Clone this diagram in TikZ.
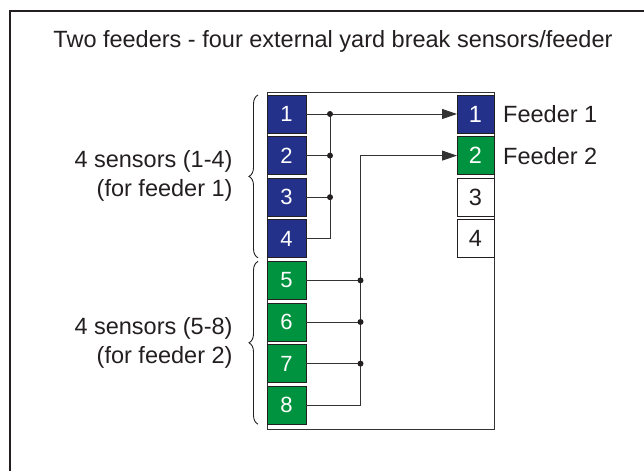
\documentclass[tikz,border=0pt]{standalone}
\usepackage{fontspec}
\setmainfont{Liberation Sans}
\usetikzlibrary{arrows.meta,positioning,decorations.pathreplacing,calc}
\definecolor{feedblue}{HTML}{23318A}
\definecolor{feedgreen}{HTML}{00933F}
\definecolor{inkdark}{HTML}{231F20}
\definecolor{wiregray}{HTML}{333333}

\begin{document}
\begin{tikzpicture}[x=1pt,y=1pt,
  every node/.style={font=\fontsize{23.5}{29}\selectfont,text=inkdark,inner sep=0pt},
  sbox/.style={draw=inkdark,line width=0.9pt,minimum width=39pt,
               minimum height=38pt,outer sep=0pt,font=\fontsize{22}{26}\selectfont},
  rbox/.style={sbox,minimum width=37pt,font=\fontsize{23.5}{28}\selectfont},
  feed1/.style={fill=feedblue,text=white},
  feed2/.style={fill=feedgreen,text=white},
  devbox/.style={draw=wiregray,line width=1pt,minimum width=227pt,
                 minimum height=337pt,outer sep=0pt},
  wire/.style={draw=wiregray,line width=1pt},
  arr/.style={wire,-{Triangle[length=15pt,width=10pt]}},
  jdot/.style={circle,fill=inkdark,minimum size=6pt},
  brc/.style={decorate,decoration={brace,amplitude=9pt},line width=0.9pt,draw=inkdark}
]
\useasboundingbox (0,0) rectangle (644,-471);

% outer frame (cut off at right and bottom)
\draw[inkdark,line width=1.5pt] (10,-471) -- (10,-11) -- (644,-11);

\node[anchor=base] (title) at (333,-47) {Two feeders - four external yard break sensors/feeder};

% device
\node[devbox] (dev) at (380.5,-260.5) {};

% sensor inputs, feeder 1
\node[sbox,feed1] (s1) at (286.5,-114) {1};
\node[sbox,feed1,below=3.6pt of s1] (s2) {2};
\node[sbox,feed1,below=3.6pt of s2] (s3) {3};
\node[sbox,feed1,below=3.6pt of s3] (s4) {4};
% sensor inputs, feeder 2
\node[sbox,feed2,below=3.6pt of s4] (s5) {5};
\node[sbox,feed2,below=3.6pt of s5] (s6) {6};
\node[sbox,feed2,below=3.6pt of s6] (s7) {7};
\node[sbox,feed2,below=3.6pt of s7] (s8) {8};

% feeder outputs
\node[rbox,feed1] (r1) at (475.5,-114) {1};
\node[rbox,feed2,below=3.6pt of r1] (r2) {2};
\node[rbox,fill=white,below=3.6pt of r2] (r3) {3};
\node[rbox,fill=white,below=3.6pt of r3] (r4) {4};
\node[right=9pt of r1] (f1) {Feeder 1};
\node[right=9pt of r2] (f2) {Feeder 2};

% braces + labels
\draw[brc] ([xshift=-9pt]s4.south west) -- ([xshift=-9pt]s1.north west)
  node[midway,left=25pt,align=right] (lab1) {4 sensors (1-4)\\(for feeder 1)};
\draw[brc] ([xshift=-9pt]s8.south west) -- ([xshift=-9pt]s5.north west)
  node[midway,left=25pt,align=right] (lab2) {4 sensors (5-8)\\(for feeder 2)};

% wiring, feeder 1
\coordinate (busA) at (330,0);
\draw[arr] (s1.east) -- (r1.west);
\draw[wire] (s2.east) -- (s2.east -| busA);
\draw[wire] (s3.east) -- (s3.east -| busA);
\draw[wire] (s4.east) -| (s1.east -| busA);
\node[jdot] (j1) at (s1.east -| busA) {};
\node[jdot] (j2) at (s2.east -| busA) {};
\node[jdot] (j3) at (s3.east -| busA) {};

% wiring, feeder 2
\coordinate (busB) at (360.5,0);
\draw[arr] (s8.east) -| (r2.west -| busB) -- (r2.west);
\draw[wire] (s5.east) -- (s5.east -| busB);
\draw[wire] (s6.east) -- (s6.east -| busB);
\draw[wire] (s7.east) -- (s7.east -| busB);
\node[jdot] (j5) at (s5.east -| busB) {};
\node[jdot] (j6) at (s6.east -| busB) {};
\node[jdot] (j7) at (s7.east -| busB) {};

\end{tikzpicture}
\end{document}
